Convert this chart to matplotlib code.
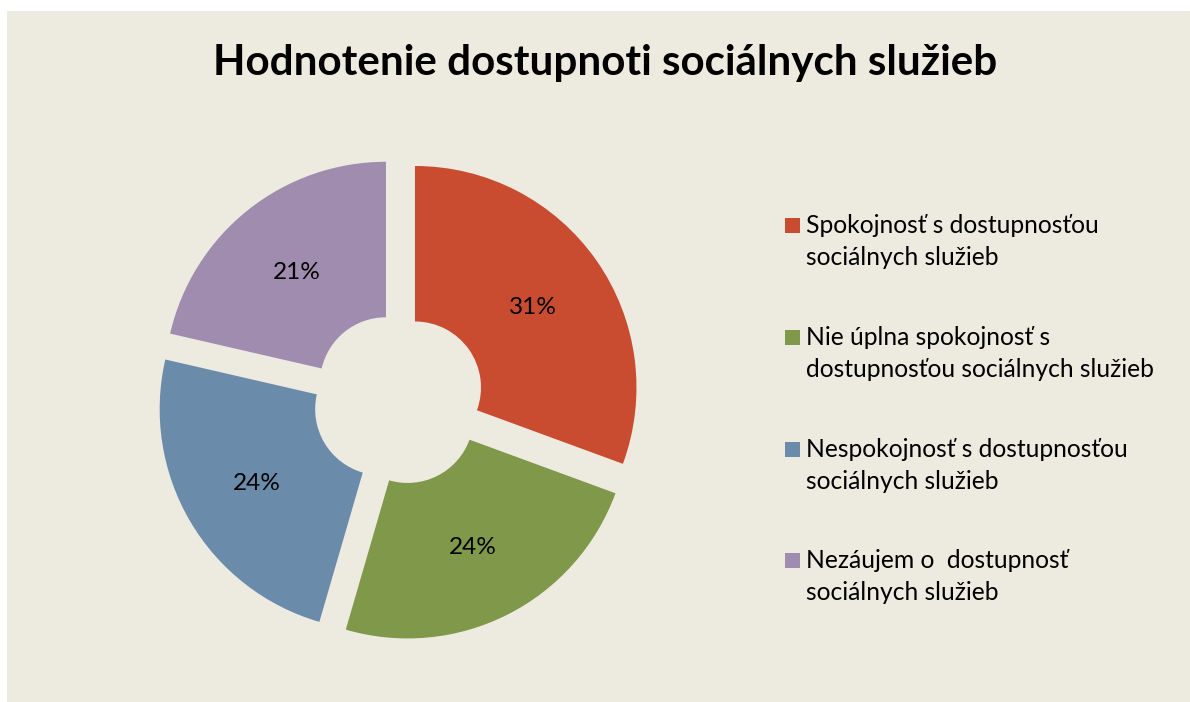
import matplotlib
matplotlib.use("Agg")
import matplotlib.pyplot as plt
from matplotlib.patches import Rectangle

# ---- data ----
title = "Hodnotenie dostupnoti sociálnych služieb"
categories = [
    "Spokojnosť s dostupnosťou\nsociálnych služieb",
    "Nie úplna spokojnosť s\ndostupnosťou sociálnych služieb",
    "Nespokojnosť s dostupnosťou\nsociálnych služieb",
    "Nezáujem o  dostupnosť\nsociálnych služieb",
]
# shares (labels show 31 %, 24 %, 24 %, 21 %)
values = [30.6, 23.9, 24.1, 21.4]
colors = ["#C94C30", "#7F984A", "#6B8BAB", "#9F8CAF"]

W, H = 1190, 702
BG = "#EDEBE0"
FONT = "Lato"

fig = plt.figure(figsize=(W / 100, H / 100), dpi=100, facecolor="white")
ax = fig.add_axes([0, 0, 1, 1])
ax.set_facecolor("white")

# background panel
ax.add_patch(Rectangle((7, 0), W - 7, H - 11, facecolor=BG, edgecolor="none", zorder=0))

R = 221.5
r_in = 66.0
d = 20.1
cx, cy = 398.5, H - 399.0

wedges, texts, autotexts = ax.pie(
    values,
    colors=colors,
    startangle=90,
    counterclock=False,
    radius=R,
    center=(cx, cy),
    explode=[d] * len(values),
    wedgeprops=dict(width=R - r_in, edgecolor="none"),
    autopct=lambda p: f"{round(p)}%",
    pctdistance=(R + r_in) / 2 / R,
    textprops=dict(fontfamily=FONT, color="black"),
    frame=True,
)

ax.set_xlim(0, W)
ax.set_ylim(0, H)
ax.set_aspect("auto")
ax.axis("off")

fig.canvas.draw()
renderer = fig.canvas.get_renderer()


def fit(t, target_w):
    bb = t.get_window_extent(renderer)
    t.set_fontsize(t.get_fontsize() * target_w / bb.width)


for t in autotexts:
    t.set_fontsize(16)
    t.set_verticalalignment("center_baseline")
fit(autotexts[0], 48)
for t in autotexts[1:]:
    t.set_fontsize(autotexts[0].get_fontsize())

# title
tt = ax.text(605, H - 75, title, ha="center", va="baseline",
             fontsize=30, fontweight="bold", fontfamily=FONT, color="black")
fit(tt, 784)

# legend (manual)
first_base = [233, 345, 457, 568]
line_gap = 32
legend_texts = []
for i, (lab, col) in enumerate(zip(categories, colors)):
    yb = first_base[i]
    ax.add_patch(Rectangle((785, H - yb), 15, 15, facecolor=col, edgecolor="none"))
    for j, line in enumerate(lab.split("\n")):
        t = ax.text(806, H - (yb + j * line_gap), line, ha="left", va="baseline",
                    fontsize=18, fontfamily=FONT, color="black")
        legend_texts.append(t)

ref = legend_texts[3]  # "dostupnosťou sociálnych služieb"
fit(ref, 348)
for t in legend_texts:
    t.set_fontsize(ref.get_fontsize())

fig.savefig("out.png", dpi=100, facecolor="white")
